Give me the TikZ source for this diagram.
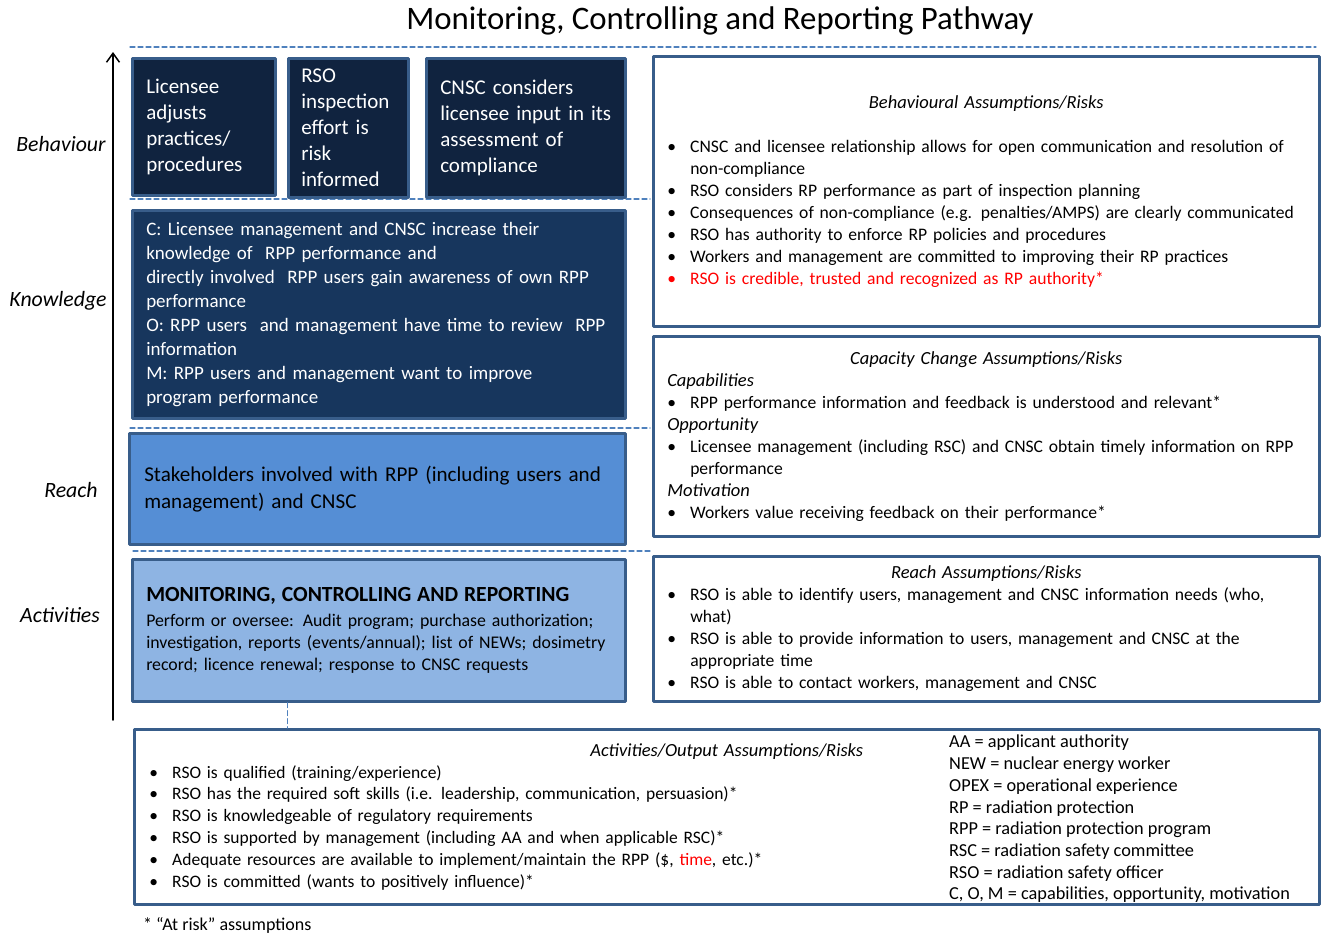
\documentclass[tikz,border=0pt]{standalone}
\usepackage{fontspec}
\setmainfont{Carlito}
\usetikzlibrary{arrows.meta,positioning}

\definecolor{boxedge}{HTML}{385D8A}
\definecolor{navy}{HTML}{10233F}
\definecolor{knowblue}{HTML}{17365D}
\definecolor{reachblue}{HTML}{558ED5}
\definecolor{actblue}{HTML}{8EB4E3}
\definecolor{dashblue}{HTML}{4F81BD}
\definecolor{riskred}{HTML}{FF0000}

\hyphenpenalty=10000
\exhyphenpenalty=10000

% bullet line, its continuation, and a centred heading line
\newcommand{\bul}[1]{\makebox[23pt][l]{\textbullet}#1}
\newcommand{\cont}[1]{\hspace*{23pt}#1}
\newcommand{\ctr}[1]{\hspace*{\fill}{\fontsize{18.5}{22}\selectfont\itshape #1}\hspace*{\fill}\null}

\begin{document}
\begin{tikzpicture}[x=1pt,y=-1pt,line cap=round,line join=round,
  box/.style={draw=boxedge,line width=2.5pt,anchor=north west,align=left,inner xsep=14pt,inner ysep=0pt},
  darkbox/.style={box,fill=navy,text=white,font=\fontsize{21}{26}\selectfont},
  riskbox/.style={box,fill=white,text width=638pt,minimum width=666pt,font=\fontsize{17.6}{22}\selectfont},
  level/.style={font=\fontsize{21.8}{24}\selectfont\itshape},
  sepline/.style={dashblue,line width=1.2pt,dash pattern=on 5pt off 3pt}]

        \useasboundingbox (0,0) rectangle (1322,935);

        % --- Title ---
        \node[font=\fontsize{32.8}{36}\selectfont] (title) at (720,21) {Monitoring, Controlling and Reporting Pathway};

        % --- Level axis ---
        \coordinate (axisfoot) at (113,720);
        \coordinate (axistop) at (113,52);
        \draw[line width=1.5pt,-{Straight Barb[length=9pt,width=13pt]}] (axisfoot) -- (axistop);

        \node[level] (lbehav) at (61,144) {Behaviour};
        \node[level] (lknow) at (58,301) {Knowledge};
        \node[level] (lreach) at (71,490) {Reach};
        \node[level] (lact) at (60,615) {Activities};

        % --- Level separators ---
        \draw[sepline] (130,47) -- (1316,47);
        \draw[sepline] (130,199) -- (650,199);
        \draw[sepline] (130,428) -- (650,428);
        \draw[sepline] (133,551) -- (650,551);

        % Behaviour
        \node[darkbox,minimum width=141pt,minimum height=137pt,text width=115pt] (adjusts) at (131,57)
            {Licensee\\adjusts\\practices/\\procedures};
        \node[darkbox,minimum width=120pt,minimum height=139pt,text width=94pt,inner xsep=13pt] (inspect) at (287,57)
            {RSO\\inspection\\effort is\\risk\\informed};
        \node[darkbox,minimum width=199pt,minimum height=139pt,text width=171pt] (considers) at (425,57)
            {CNSC considers\\licensee input in its\\assessment of\\compliance};

        % Knowledge
        \node[box,fill=knowblue,text=white,font=\fontsize{19}{24}\selectfont,minimum width=493pt,minimum height=208pt,text width=465pt] (know) at (131,209)
            {C: Licensee management and CNSC increase their\\knowledge of~ RPP performance and\\directly involved~ RPP users gain awareness of own RPP\\performance\\O: RPP users~ and management have time to review~ RPP\\information\\M: RPP users and management want to improve\\program performance};

        % Reach
        \node[box,fill=reachblue,font=\fontsize{21.1}{27}\selectfont,minimum width=496pt,minimum height=111pt,text width=466pt,inner xsep=15pt] (reach) at (128,432)
            {Stakeholders involved with RPP (including users and\\management) and CNSC};

        % Activities
        \node[box,fill=actblue,font=\fontsize{17.8}{22}\selectfont,minimum width=493pt,minimum height=142pt,text width=465pt] (act) at (131,558)
            {{\fontsize{21.6}{25}\selectfont\bfseries MONITORING, CONTROLLING AND REPORTING}\\[3pt]
             Perform or oversee: Audit program; purchase authorization;\\
             investigation, reports (events/annual); list of NEWs; dosimetry\\
             record; licence renewal; response to CNSC requests};

        % --- Assumptions/Risks ---
        \node[riskbox,minimum height=270pt] (behavrisk) at (652,55)
            {\ctr{Behavioural Assumptions/Risks}\\[22pt]
             \bul{CNSC and licensee relationship allows for open communication and resolution of}\\
             \cont{non-compliance}\\
             \bul{RSO considers RP performance as part of inspection planning}\\
             \bul{Consequences of non-compliance (e.g. penalties/AMPS) are clearly communicated}\\
             \bul{RSO has authority to enforce RP policies and procedures}\\
             \bul{Workers and management are committed to improving their RP practices}\\
             \textcolor{riskred}{\bul{RSO is credible, trusted and recognized as RP authority*}}};

        \node[riskbox,minimum height=200pt] (caprisk) at (652,335)
            {\ctr{Capacity Change Assumptions/Risks}\\
             {\fontsize{18.5}{22}\selectfont\itshape Capabilities}\\
             \bul{RPP performance information and feedback is understood and relevant*}\\
             {\fontsize{18.5}{22}\selectfont\itshape Opportunity}\\
             \bul{Licensee management (including RSC) and CNSC obtain timely information on RPP}\\
             \cont{performance}\\
             {\fontsize{18.5}{22}\selectfont\itshape Motivation}\\
             \bul{Workers value receiving feedback on their performance*}};

        \node[riskbox,minimum height=145pt] (reachrisk) at (652,555)
            {\ctr{Reach Assumptions/Risks}\\
             \bul{RSO is able to identify users, management and CNSC information needs (who,}\\
             \cont{what)}\\
             \bul{RSO is able to provide information to users, management and CNSC at the}\\
             \cont{appropriate time}\\
             \bul{RSO is able to contact workers, management and CNSC}};

        \node[box,fill=white,font=\fontsize{17.5}{21.8}\selectfont,minimum width=1185pt,minimum height=175pt,text width=1155pt,inner xsep=15pt] (outrisk) at (133,728)
            {\ctr{Activities/Output Assumptions/Risks}\\
             \bul{RSO is qualified (training/experience)}\\
             \bul{RSO has the required soft skills (i.e. leadership, communication, persuasion)*}\\
             \bul{RSO is knowledgeable of regulatory requirements}\\
             \bul{RSO is supported by management (including AA and when applicable RSC)*}\\
             \bul{Adequate resources are available to implement/maintain the RPP (\$, \textcolor{riskred}{time}, etc.)*}\\
             \bul{RSO is committed (wants to positively influence)*}};

        % link activities to their assumptions
        \coordinate (stub) at (287,0);
        \draw[sepline,line width=1pt] (act.south -| stub) -- (outrisk.north -| stub);

        % abbreviations
        \node[anchor=north west,align=left,inner sep=0pt,font=\fontsize{18.3}{21.7}\selectfont] (abbrev) at (949,735)
            {AA = applicant authority\\NEW = nuclear energy worker\\OPEX = operational experience\\RP = radiation protection\\RPP = radiation protection program\\RSC = radiation safety committee\\RSO = radiation safety officer\\C, O, M = capabilities, opportunity, motivation};

        % footnote
        \node[anchor=west,inner sep=0pt,font=\fontsize{18}{20}\selectfont] (atrisk) at (143,925) {* “At risk” assumptions};

    \end{tikzpicture}
\end{document}
